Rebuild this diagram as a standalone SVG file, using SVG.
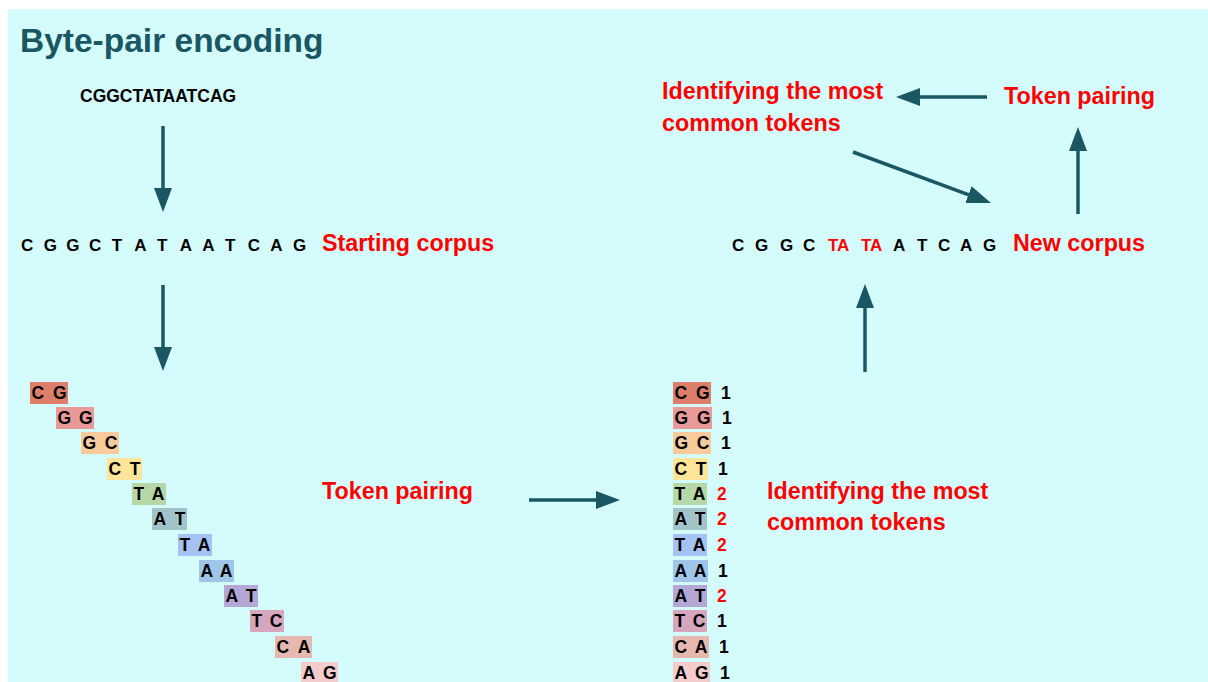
<svg xmlns="http://www.w3.org/2000/svg" width="1208" height="682" viewBox="0 0 1208 682">
  <style>
    .title { font-family: "Liberation Sans", Arial, sans-serif; font-weight: bold; font-size: 33.5px; fill: #1b5763; }
    .seq { font-family: "Liberation Sans", Arial, sans-serif; font-weight: bold; font-size: 17px; fill: #000000; }
    .seqr { font-family: "Liberation Sans", Arial, sans-serif; font-weight: bold; font-size: 17px; fill: #ff0000; }
    .lbl { font-family: "Liberation Sans", Arial, sans-serif; font-weight: bold; font-size: 23.3px; fill: #ff0000; }
    .pair { font-family: "Liberation Sans", Arial, sans-serif; font-weight: bold; font-size: 17.5px; fill: #000000; }
    .cnt { font-family: "Liberation Sans", Arial, sans-serif; font-weight: bold; font-size: 17.5px; fill: #000000; }
    .cntr { font-family: "Liberation Sans", Arial, sans-serif; font-weight: bold; font-size: 17.5px; fill: #ff0000; }
    .conn { stroke: #1b5763; stroke-width: 3.5; fill: none; marker-end: url(#ah); }
  </style>
  <defs>
    <marker id="ah" markerUnits="userSpaceOnUse" markerWidth="24" markerHeight="18" refX="12" refY="9" orient="auto" viewBox="0 0 24 18">
      <path d="M0,0 L24,9 L0,18 Z" fill="#1b5763"/>
    </marker>
  </defs>

  <rect x="8" y="9" width="1200" height="673" fill="#d5fcfc"/>

  <g id="title">
    <text class="title" x="20" y="52">Byte-pair encoding</text>
  </g>

  <g id="input-sequence">
    <text class="seq" x="80" y="102" style="font-size:17.5px">CGGCTATAATCAG</text>
  </g>

  <g id="starting-corpus">
    <text class="seq" x="21 43.7 66.3 89 111.7 134.3 157 179.7 202.3 225 247.7 270.3 293" y="251">CGGCTATAATCAG</text>
    <text class="lbl" x="322" y="251">Starting corpus</text>
  </g>

  <g id="pairs-left">
    <rect x="30" y="382" width="38" height="22" fill="#dd7e6b"/>
    <text class="pair" x="31.5" y="399">C</text><text class="pair" x="66.5" y="399" text-anchor="end">G</text>
    <rect x="56" y="407" width="38" height="22" fill="#ea9999"/>
    <text class="pair" x="57.5" y="424">G</text><text class="pair" x="92.5" y="424" text-anchor="end">G</text>
    <rect x="81" y="432" width="38" height="22" fill="#f9cb9c"/>
    <text class="pair" x="82.5" y="449">G</text><text class="pair" x="117.5" y="449" text-anchor="end">C</text>
    <rect x="107" y="458" width="35" height="22" fill="#ffe599"/>
    <text class="pair" x="108.5" y="475">C</text><text class="pair" x="140.5" y="475" text-anchor="end">T</text>
    <rect x="132" y="483" width="34" height="22" fill="#b6d7a8"/>
    <text class="pair" x="133.5" y="500">T</text><text class="pair" x="164.5" y="500" text-anchor="end">A</text>
    <rect x="152" y="508" width="35" height="22" fill="#a2c4c9"/>
    <text class="pair" x="153.5" y="525">A</text><text class="pair" x="185.5" y="525" text-anchor="end">T</text>
    <rect x="178" y="534" width="34" height="22" fill="#a4c2f4"/>
    <text class="pair" x="179.5" y="551">T</text><text class="pair" x="210.5" y="551" text-anchor="end">A</text>
    <rect x="199" y="560" width="35" height="22" fill="#9fc5e8"/>
    <text class="pair" x="200.5" y="577">A</text><text class="pair" x="232.5" y="577" text-anchor="end">A</text>
    <rect x="224" y="585" width="34" height="22" fill="#b4a7d6"/>
    <text class="pair" x="225.5" y="602">A</text><text class="pair" x="256.5" y="602" text-anchor="end">T</text>
    <rect x="250" y="610" width="34" height="22" fill="#d5a6bd"/>
    <text class="pair" x="251.5" y="627">T</text><text class="pair" x="282.5" y="627" text-anchor="end">C</text>
    <rect x="275" y="636" width="37" height="22" fill="#e6b8af"/>
    <text class="pair" x="276.5" y="653">C</text><text class="pair" x="310.5" y="653" text-anchor="end">A</text>
    <rect x="301" y="662" width="37" height="22" fill="#f4cccc"/>
    <text class="pair" x="302.5" y="679">A</text><text class="pair" x="336.5" y="679" text-anchor="end">G</text>
  </g>

  <g id="token-pairing-label">
    <text class="lbl" x="322" y="499">Token pairing</text>
  </g>

  <g id="pairs-counted">
    <rect x="673" y="382" width="38" height="22" fill="#dd7e6b"/>
    <text class="pair" x="674.5" y="399">C</text><text class="pair" x="709.5" y="399" text-anchor="end">G</text>
    <text class="cnt" x="721" y="399">1</text>
    <rect x="673" y="407" width="39" height="22" fill="#ea9999"/>
    <text class="pair" x="674.5" y="424">G</text><text class="pair" x="710.5" y="424" text-anchor="end">G</text>
    <text class="cnt" x="722" y="424">1</text>
    <rect x="673" y="432" width="38" height="22" fill="#f9cb9c"/>
    <text class="pair" x="674.5" y="449">G</text><text class="pair" x="709.5" y="449" text-anchor="end">C</text>
    <text class="cnt" x="721" y="449">1</text>
    <rect x="673" y="458" width="35" height="22" fill="#ffe599"/>
    <text class="pair" x="674.5" y="475">C</text><text class="pair" x="706.5" y="475" text-anchor="end">T</text>
    <text class="cnt" x="718" y="475">1</text>
    <rect x="673" y="483" width="34" height="22" fill="#b6d7a8"/>
    <text class="pair" x="674.5" y="500">T</text><text class="pair" x="705.5" y="500" text-anchor="end">A</text>
    <text class="cntr" x="717" y="500">2</text>
    <rect x="673" y="508" width="34" height="22" fill="#a2c4c9"/>
    <text class="pair" x="674.5" y="525">A</text><text class="pair" x="705.5" y="525" text-anchor="end">T</text>
    <text class="cntr" x="717" y="525">2</text>
    <rect x="673" y="534" width="34" height="22" fill="#a4c2f4"/>
    <text class="pair" x="674.5" y="551">T</text><text class="pair" x="705.5" y="551" text-anchor="end">A</text>
    <text class="cntr" x="717" y="551">2</text>
    <rect x="673" y="560" width="35" height="22" fill="#9fc5e8"/>
    <text class="pair" x="674.5" y="577">A</text><text class="pair" x="706.5" y="577" text-anchor="end">A</text>
    <text class="cnt" x="718" y="577">1</text>
    <rect x="673" y="585" width="34" height="22" fill="#b4a7d6"/>
    <text class="pair" x="674.5" y="602">A</text><text class="pair" x="705.5" y="602" text-anchor="end">T</text>
    <text class="cntr" x="717" y="602">2</text>
    <rect x="673" y="610" width="34" height="22" fill="#d5a6bd"/>
    <text class="pair" x="674.5" y="627">T</text><text class="pair" x="705.5" y="627" text-anchor="end">C</text>
    <text class="cnt" x="717" y="627">1</text>
    <rect x="673" y="636" width="36" height="22" fill="#e6b8af"/>
    <text class="pair" x="674.5" y="653">C</text><text class="pair" x="707.5" y="653" text-anchor="end">A</text>
    <text class="cnt" x="719" y="653">1</text>
    <rect x="673" y="662" width="37" height="22" fill="#f4cccc"/>
    <text class="pair" x="674.5" y="679">A</text><text class="pair" x="708.5" y="679" text-anchor="end">G</text>
    <text class="cnt" x="720" y="679">1</text>
  </g>

  <g id="identify-label">
    <text class="lbl" x="767" y="499">Identifying the most</text>
    <text class="lbl" x="767" y="530">common tokens</text>
  </g>

  <g id="new-corpus">
    <text class="seq" x="732 755 780 803" y="251">CGGC</text>
    <text class="seqr" x="828" y="251">TA</text>
    <text class="seqr" x="861" y="251">TA</text>
    <text class="seq" x="893 917 938 960 983" y="251">ATCAG</text>
    <text class="lbl" x="1013" y="251">New corpus</text>
  </g>

  <g id="cycle-identify">
    <text class="lbl" x="662" y="99">Identifying the most</text>
    <text class="lbl" x="662" y="131">common tokens</text>
  </g>

  <g id="cycle-pairing">
    <text class="lbl" x="1004" y="104">Token pairing</text>
  </g>

  <g id="connectors">
    <line class="conn" x1="163" y1="126" x2="163" y2="200"/>
    <line class="conn" x1="163" y1="285" x2="163" y2="359"/>
    <line class="conn" x1="529" y1="500" x2="608" y2="500"/>
    <line class="conn" x1="865" y1="372" x2="865" y2="296"/>
    <line class="conn" x1="1078" y1="214" x2="1078" y2="139"/>
    <line class="conn" x1="987" y1="97" x2="908" y2="97"/>
    <line class="conn" x1="853" y1="152" x2="979.7" y2="198.8"/>
  </g>
</svg>
